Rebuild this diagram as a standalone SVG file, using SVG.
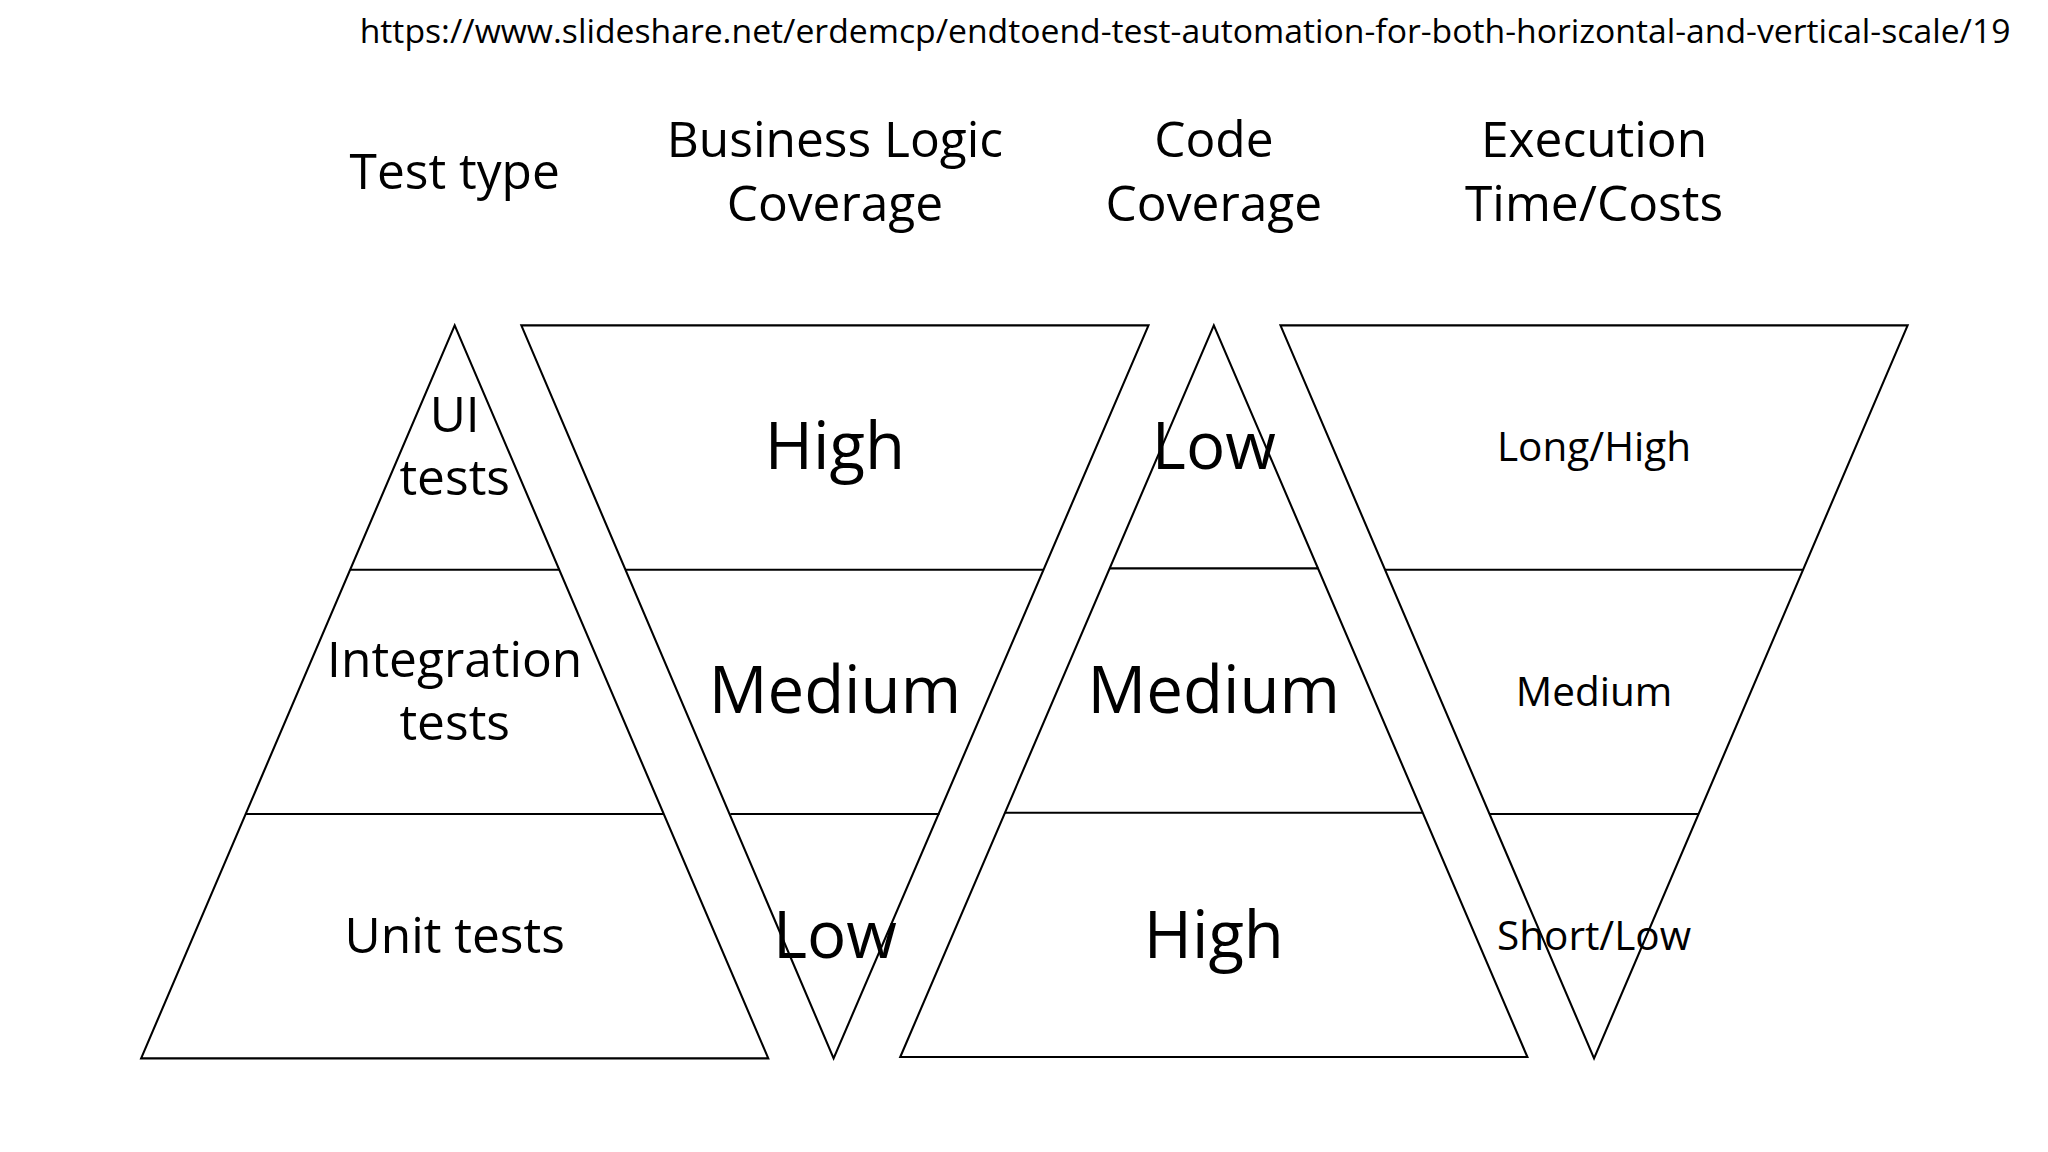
<svg xmlns="http://www.w3.org/2000/svg" width="2048" height="1152" viewBox="0 0 2048 1152">
<style>
.s{fill:none;stroke:#000;stroke-width:1.6}
text{font-family:"Open Sans","Liberation Sans",sans-serif;fill:#000;text-anchor:middle}
.h{font-size:38px}
.b{font-size:50px}
.m{font-size:31px}
.l{font-size:38px}
</style>
<rect width="2048" height="1152" fill="#fff"/>
<g transform="scale(1.3066)">
<text x="907" y="33" style="font-size:25.8px">https://www.slideshare.net/erdemcp/endtoend-test-automation-for-both-horizontal-and-vertical-scale/19</text>
<g id="headers" class="h">
<text x="348" y="145">Test type</text>
<text x="639" y="120">Business Logic</text>
<text x="639" y="169">Coverage</text>
<text x="929" y="120">Code</text>
<text x="929" y="169">Coverage</text>
<text x="1220" y="120">Execution</text>
<text x="1220" y="169">Time/Costs</text>
</g>
<g id="connectors"></g>
<g id="testtype">
<polygon class="s" points="348,249 108,810 588,810"/>
<line class="s" x1="268" y1="436" x2="428" y2="436"/>
<line class="s" x1="188" y1="623" x2="508" y2="623"/>
<text class="l" x="348" y="331">UI</text>
<text class="l" x="348" y="379">tests</text>
<text class="l" x="348" y="518">Integration</text>
<text class="l" x="348" y="566">tests</text>
<text class="l" x="348" y="729">Unit tests</text>
</g>
<g id="business">
<polygon class="s" points="399,249 879,249 638,810"/>
<line class="s" x1="479" y1="436" x2="799" y2="436"/>
<line class="s" x1="559" y1="623" x2="719" y2="623"/>
<text class="b" x="639" y="359">High</text>
<text class="b" x="639" y="546">Medium</text>
<text class="b" x="639" y="733">Low</text>
</g>
<g id="code">
<polygon class="s" points="929,249 689,809 1169,809"/>
<line class="s" x1="849" y1="435" x2="1009" y2="435"/>
<line class="s" x1="769" y1="622" x2="1089" y2="622"/>
<text class="b" x="929" y="359">Low</text>
<text class="b" x="929" y="546">Medium</text>
<text class="b" x="929" y="733">High</text>
</g>
<g id="execution">
<polygon class="s" points="980,249 1460,249 1220,810"/>
<line class="s" x1="1060" y1="436" x2="1380" y2="436"/>
<line class="s" x1="1140" y1="623" x2="1300" y2="623"/>
<text class="m" x="1220" y="353">Long/High</text>
<text class="m" x="1220" y="540">Medium</text>
<text class="m" x="1220" y="727">Short/Low</text>
</g>
</g>
</svg>
